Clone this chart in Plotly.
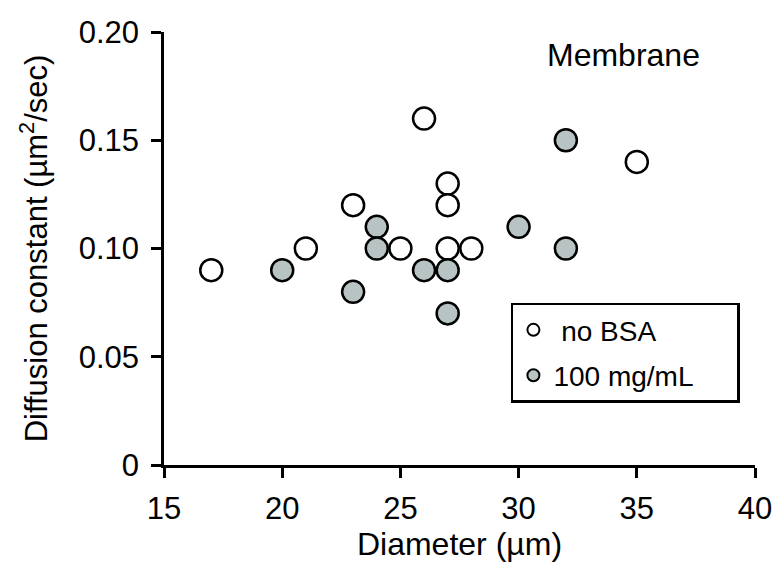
import plotly.graph_objects as go

nobsa_x = [17, 21, 23, 25, 26, 27, 27, 27, 28, 35]
nobsa_y = [0.09, 0.10, 0.12, 0.10, 0.16, 0.13, 0.12, 0.10, 0.10, 0.14]
bsa_x = [20, 23, 24, 24, 26, 27, 27, 30, 32, 32]
bsa_y = [0.09, 0.08, 0.11, 0.10, 0.09, 0.09, 0.07, 0.11, 0.15, 0.10]

x_ticks = [15, 20, 25, 30, 35, 40]
y_ticks = [0, 0.05, 0.10, 0.15, 0.20]
y_ticktext = ["0", "0.05", "0.10", "0.15", "0.20"]

FONT = "Liberation Sans, Arial, sans-serif"

fig = go.Figure()
fig.add_trace(go.Scatter(
    x=nobsa_x, y=nobsa_y, mode="markers", name="&nbsp;no BSA", legendgroup="a",
    marker=dict(size=22, color="white", line=dict(color="black", width=2.5)),
))
fig.add_trace(go.Scatter(
    x=bsa_x, y=bsa_y, mode="markers",
    name="100 mg/mL&nbsp;&nbsp;&nbsp;&nbsp;&nbsp;", legendgroup="b",
    marker=dict(size=22, color="#b8c4c4", line=dict(color="black", width=2.5)),
))

fig.update_layout(
    width=777, height=573,
    margin=dict(l=164, r=22, t=32, b=108, autoexpand=False),
    plot_bgcolor="white", paper_bgcolor="white",
    font=dict(family=FONT, size=31, color="black"),
    showlegend=True,
    legend=dict(
        x=0.587, y=0.375, xanchor="left", yanchor="top",
        bordercolor="black", borderwidth=2.5, bgcolor="white",
        font=dict(size=28), itemsizing="constant",
        tracegroupgap=6,
    ),
    annotations=[dict(
        x=0.778, y=0.946, xref="paper", yref="paper",
        text="Membrane", showarrow=False, font=dict(size=32),
        xanchor="center", yanchor="middle",
    )],
)
fig.update_xaxes(
    range=[15, 40], tickvals=x_ticks, ticks="outside", ticklen=10,
    tickwidth=2.5, tickcolor="black", showline=True, linecolor="black",
    linewidth=2.5, showgrid=False, zeroline=False, ticklabelstandoff=4,
    automargin=False,
    title=dict(text="Diameter (µm)", font=dict(size=32), standoff=8),
    tickfont=dict(size=31),
)
fig.update_yaxes(
    range=[0, 0.20], tickvals=y_ticks, ticktext=y_ticktext, ticks="outside",
    ticklen=10, tickwidth=2.5, tickcolor="black", showline=True,
    linecolor="black", linewidth=2.5, showgrid=False, zeroline=False,
    ticklabelstandoff=6, automargin=False,
    title=dict(text="Diffusion constant (µm<sup>2</sup>/sec)", font=dict(size=31), standoff=22),
    tickfont=dict(size=31),
)

fig.write_html("out.html")
